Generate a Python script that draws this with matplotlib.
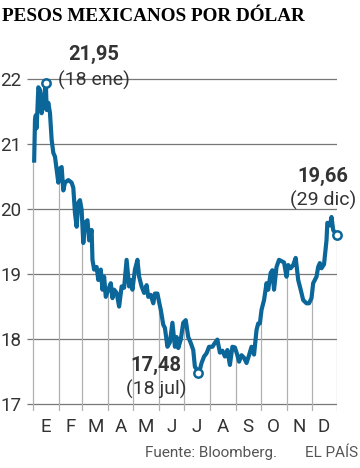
import numpy as np
import matplotlib
matplotlib.use("Agg")
import matplotlib.pyplot as plt

# USD/MXN 2017 (day of year, pesos per dollar)
days = [1, 2, 3, 4, 6, 8, 10, 12, 15, 16, 18, 20, 22, 24, 26, 28, 30, 32, 34, 36,
        38, 42, 46, 48, 50, 52, 54, 56, 58, 60, 62, 65, 67, 70, 71, 73, 76, 78,
        81, 83, 85, 87, 90, 93, 95, 97, 100, 103, 106, 109, 112, 115, 117, 119,
        122, 125, 127, 130, 133, 136, 138, 141, 144, 146, 149, 151, 153, 156,
        158, 161, 164, 167, 170, 172, 174, 177, 180, 183, 186, 189, 192, 194,
        197, 199, 202, 205, 208, 211, 215, 218, 221, 224, 227, 230, 233, 236,
        239, 242, 245, 247, 250, 253, 256, 259, 262, 265, 268, 270, 272, 274,
        277, 280, 282, 285, 287, 289, 292, 295, 298, 301, 304, 306, 309, 312,
        315, 318, 321, 324, 328, 331, 334, 336, 340, 342, 344, 346, 349, 352,
        353, 356, 358, 360, 364]
rate = [20.75, 21.38, 21.45, 21.25, 21.88, 21.84, 21.48, 21.64, 21.95, 21.53,
        21.64, 21.48, 21.07, 20.87, 20.81, 20.61, 20.41, 20.63, 20.65, 20.29,
        20.41, 20.45, 20.41, 20.33, 19.94, 19.73, 20.10, 20.14, 19.99, 19.48,
        19.79, 19.83, 19.52, 19.68, 19.22, 19.07, 19.11, 18.91, 19.07, 18.76,
        18.96, 18.65, 18.76, 18.86, 18.63, 18.76, 18.71, 18.50, 18.81, 18.79,
        19.22, 18.81, 18.91, 18.76, 19.07, 19.22, 18.96, 18.81, 18.71, 18.83,
        18.65, 18.68, 18.55, 18.70, 18.70, 18.57, 18.45, 18.22, 18.17, 17.88,
        17.95, 18.25, 17.88, 18.03, 17.86, 17.99, 18.25, 18.29, 18.03, 17.94,
        17.83, 17.57, 17.52, 17.48, 17.63, 17.73, 17.78, 17.88, 17.88, 17.94,
        17.99, 17.79, 17.82, 17.73, 17.83, 17.60, 17.88, 17.87, 17.75, 17.65,
        17.75, 17.71, 17.63, 17.75, 17.88, 17.76, 18.14, 18.24, 18.24, 18.45,
        18.60, 18.86, 18.76, 19.02, 19.06, 18.76, 19.11, 19.22, 19.20, 19.18,
        18.96, 19.14, 19.09, 19.14, 19.25, 18.91, 18.76, 18.60, 18.55, 18.55,
        18.63, 18.86, 18.96, 19.11, 19.17, 19.09, 19.15, 19.52, 19.79, 19.75,
        19.88, 19.68, 19.60]

month_starts = [0, 31, 59, 90, 120, 151, 181, 212, 243, 273, 304, 334, 364]
month_labels = ["E", "F", "M", "A", "M", "J", "J", "A", "S", "O", "N", "D"]
y_ticks = [17, 18, 19, 20, 21, 22]

# highlighted points: (day, value, label, date)
peak = (15, 21.95, "21,95", "(18 ene)")
low = (198, 17.48, "17,48", "(18 jul)")
last = (364, 19.60, "19,66", "(29 dic)")

blue = "#0b6699"
txt = "#333333"

fig = plt.figure(figsize=(3.6, 4.68), dpi=100)
ax = fig.add_axes([27 / 360, 1 - 411 / 468, 310 / 360, 338 / 468])
ax.set_xlim(-7.6, 364.6)
ax.set_ylim(16.89, 22.1)
for s in ax.spines.values():
    s.set_visible(False)

# horizontal grid
ax.hlines(y_ticks, -7.6, 364.6, color="#777777", lw=0.9, zorder=1)
# vertical lines from the bottom up to the series
tops = np.interp(month_starts, days, rate)
ax.vlines(month_starts, 16.89, tops, color="#b0b0b0", lw=0.9, zorder=1)

ax.plot(days, rate, color=blue, lw=3.0, solid_joinstyle="round", zorder=3)
for d, v, _, _ in (peak, low, last):
    ax.plot(d, v, "o", ms=6, mfc="white", mec=blue, mew=1.8, zorder=4, clip_on=False)

ax.set_yticks(y_ticks)
ax.set_yticklabels([str(t) for t in y_ticks], fontsize=13.5, color=txt,
                   family="Roboto")
ax.tick_params(axis="y", length=0, pad=4)
mids = [(month_starts[i] + month_starts[i + 1]) / 2 for i in range(12)]
ax.set_xticks(mids)
ax.set_xticklabels(month_labels, fontsize=13.5, color=txt, family="Roboto")
ax.tick_params(axis="x", length=0, pad=5)

def fx(px):
    return px / 360

def fy(py):
    return 1 - py / 468

fig.text(fx(2), fy(21), "PESOS MEXICANOS POR DÓLAR", family="Liberation Serif",
         fontweight="bold", fontsize=13.8, color="black", va="baseline")

for (cx, y1, y2), (_, _, val, date) in zip([(94, 60, 86), (156, 371, 395), (323, 182, 206)],
                                            (peak, low, last)):
    fig.text(fx(cx), fy(y1), val, family="Roboto", fontweight="bold", fontsize=14.5,
             color=txt, ha="center", va="baseline")
    fig.text(fx(cx), fy(y2), date, family="Roboto", fontsize=14,
             color=txt, ha="center", va="baseline")

fig.text(fx(277), fy(457), "Fuente: Bloomberg.", family="Roboto", fontsize=11,
         color="#555555", ha="right", va="baseline")
fig.text(fx(358), fy(457), "EL PAÍS", family="Roboto", fontsize=11,
         color="#555555", ha="right", va="baseline")

fig.savefig("out.png", dpi=100)
